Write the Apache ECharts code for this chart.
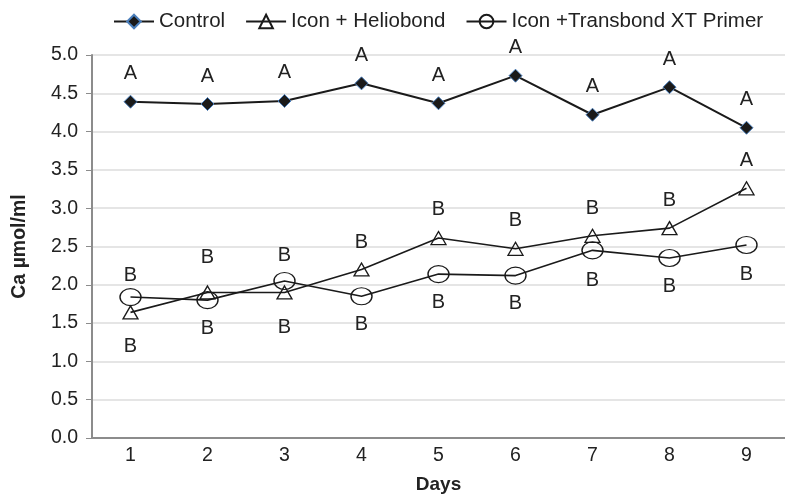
<!DOCTYPE html>
<html>
<head>
<meta charset="utf-8">
<script src="https://cdn.jsdelivr.net/npm/echarts@6/dist/echarts.min.js"></script>
<style>
html,body{margin:0;padding:0;background:#fff;}
#main{width:785px;height:500px;}
</style>
</head>
<body>
<div id="main"></div>
<script>
var days = ['1','2','3','4','5','6','7','8','9'];
var control = [4.39, 4.36, 4.40, 4.63, 4.37, 4.73, 4.22, 4.58, 4.05];
var helio = [1.64, 1.90, 1.90, 2.20, 2.61, 2.47, 2.64, 2.74, 3.26];
var trans = [1.84, 1.80, 2.05, 1.85, 2.14, 2.12, 2.45, 2.35, 2.52];
var controlLetters = ['A','A','A','A','A','A','A','A','A'];
var helioLetters = ['B','B','B','B','B','B','B','B','A'];
var transLetters = ['B','B','B','B','B','B','B','B','B'];
// letter offsets from the point (px), placed by hand in the original
var helioShift = [34, -35, 35, -27, -29, -28, -27, -28, -28];
var transShift = [-22, 28, -25, 28, 28, 28, 30, 28, 30];

var font = 'Liberation Sans, Arial, sans-serif';

function withLetters(vals, letters, shift){
    return vals.map(function(v, i){
        return {
            value: v,
            label: {show: true, formatter: letters[i], position: 'inside', offset: [0, shift[i]]}
        };
    });
}
var letterStyle = {fontFamily: font, fontSize: 20, color: '#222'};

var chart = echarts.init(document.getElementById('main'));
chart.setOption({
    animation: false,
    textStyle: {fontFamily: font},
    legend: {
        left: 108, top: 6,
        itemWidth: 40, itemHeight: 17, itemGap: 20,
        textStyle: {fontFamily: font, fontSize: 20.5, color: '#222'},
        data: ['Control', 'Icon + Heliobond', 'Icon +Transbond XT Primer']
    },
    grid: {left: 92, right: -7, top: 55, bottom: 62},
    xAxis: {
        type: 'category', data: days,
        name: 'Days', nameLocation: 'middle', nameGap: 37,
        nameTextStyle: {fontFamily: font, fontSize: 19, fontWeight: 'bold', color: '#222'},
        axisLine: {lineStyle: {color: '#8c8c8c', width: 2}},
        axisTick: {show: false},
        axisLabel: {fontFamily: font, fontSize: 19.5, color: '#222', margin: 8}
    },
    yAxis: {
        type: 'value', min: 0, max: 5, interval: 0.5,
        name: 'Ca \u00b5mol/ml', nameLocation: 'middle', nameGap: 62,
        nameTextStyle: {fontFamily: font, fontSize: 19.5, fontWeight: 'bold', color: '#222'},
        axisLine: {show: true, lineStyle: {color: '#8c8c8c', width: 2}},
        axisTick: {show: true, length: 6, lineStyle: {color: '#8c8c8c'}},
        splitLine: {lineStyle: {color: '#dcdcdc', width: 1.5}},
        axisLabel: {fontFamily: font, fontSize: 19.5, color: '#222', margin: 14,
            formatter: function(v){ return v.toFixed(1); }}
    },
    series: [
        {
            name: 'Control', type: 'line', data: withLetters(control, controlLetters, control.map(function(){ return -28; })),
            symbol: 'diamond', symbolSize: 13,
            itemStyle: {color: '#1a1a1a', borderColor: '#4a7ebb', borderWidth: 1},
            lineStyle: {color: '#1a1a1a', width: 2},
            label: letterStyle
        },
        {
            name: 'Icon + Heliobond', type: 'line', data: withLetters(helio, helioLetters, helioShift),
            symbol: 'triangle', symbolSize: [15, 13],
            itemStyle: {color: 'rgba(255,255,255,0)', borderColor: '#1a1a1a', borderWidth: 1.3},
            lineStyle: {color: '#1a1a1a', width: 1.6},
            label: letterStyle
        },
        {
            name: 'Icon +Transbond XT Primer', type: 'line', data: withLetters(trans, transLetters, transShift),
            symbol: 'circle', symbolSize: [21, 17],
            itemStyle: {color: 'rgba(255,255,255,0)', borderColor: '#1a1a1a', borderWidth: 1.3},
            lineStyle: {color: '#1a1a1a', width: 1.6},
            label: letterStyle
        }
    ]
});
</script>
</body>
</html>
